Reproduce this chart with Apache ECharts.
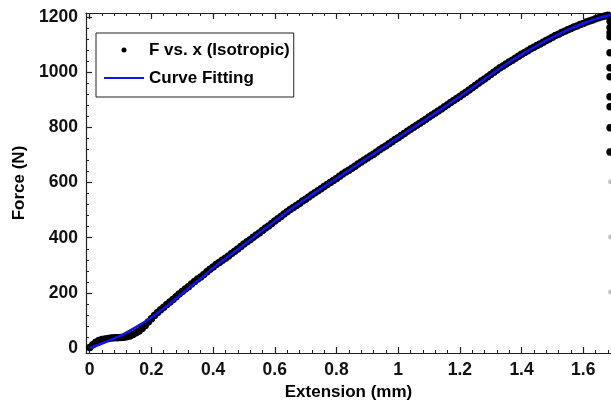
<!DOCTYPE html>
<html>
<head>
<meta charset="utf-8">
<style>
  html, body { margin: 0; padding: 0; background: #fff; }
  #chart { width: 611px; height: 410px; }
</style>
<script src="https://cdn.jsdelivr.net/npm/echarts@6/dist/echarts.min.js"></script>
</head>
<body>
<div id="chart"></div>
<script>
// Tensile test: measured force vs. extension, with the fitted curve
const extension = [
  0.00, 0.01, 0.02, 0.03, 0.04, 0.05, 0.06, 0.07, 0.08, 0.09,
  0.10, 0.11, 0.12, 0.13, 0.14, 0.15, 0.16, 0.17, 0.18, 0.19,
  0.20, 0.21, 0.22, 0.23, 0.24, 0.25, 0.26, 0.27, 0.28, 0.29,
  0.30, 0.31, 0.32, 0.33, 0.34, 0.35, 0.36, 0.37, 0.38, 0.39,
  0.40, 0.41, 0.42, 0.43, 0.44, 0.45, 0.46, 0.47, 0.48, 0.49,
  0.50, 0.51, 0.52, 0.53, 0.54, 0.55, 0.56, 0.57, 0.58, 0.59,
  0.60, 0.61, 0.62, 0.63, 0.64, 0.65, 0.66, 0.67, 0.68, 0.69,
  0.70, 0.71, 0.72, 0.73, 0.74, 0.75, 0.76, 0.77, 0.78, 0.79,
  0.80, 0.81, 0.82, 0.83, 0.84, 0.85, 0.86, 0.87, 0.88, 0.89,
  0.90, 0.91, 0.92, 0.93, 0.94, 0.95, 0.96, 0.97, 0.98, 0.99,
  1.00, 1.01, 1.02, 1.03, 1.04, 1.05, 1.06, 1.07, 1.08, 1.09,
  1.10, 1.11, 1.12, 1.13, 1.14, 1.15, 1.16, 1.17, 1.18, 1.19,
  1.20, 1.21, 1.22, 1.23, 1.24, 1.25, 1.26, 1.27, 1.28, 1.29,
  1.30, 1.31, 1.32, 1.33, 1.34, 1.35, 1.36, 1.37, 1.38, 1.39,
  1.40, 1.41, 1.42, 1.43, 1.44, 1.45, 1.46, 1.47, 1.48, 1.49,
  1.50, 1.51, 1.52, 1.53, 1.54, 1.55, 1.56, 1.57, 1.58, 1.59,
  1.60, 1.61, 1.62, 1.63, 1.64, 1.65, 1.66, 1.67, 1.68
];
const force = [
  2, 12, 21, 27, 31, 33, 35, 36, 37, 37,
  38, 39, 41, 44, 49, 55, 62, 71, 82, 94,
  106, 118, 129, 139, 148, 158, 167, 176, 186, 196,
  205, 214, 222, 232, 241, 250, 258, 267, 277, 286,
  294, 303, 310, 318, 326, 334, 343, 351, 359, 368,
  377, 385, 393, 402, 410, 417, 426, 435, 443, 452,
  461, 469, 477, 486, 494, 502, 510, 517, 524, 533,
  540, 548, 556, 563, 570, 578, 586, 593, 600, 608,
  615, 623, 631, 638, 645, 652, 659, 667, 675, 682,
  689, 696, 703, 711, 719, 726, 733, 741, 748, 756,
  763, 771, 778, 786, 793, 801, 808, 815, 822, 830,
  838, 845, 852, 860, 867, 875, 882, 890, 898, 905,
  912, 920, 928, 936, 944, 952, 960, 968, 976, 984,
  992, 1000, 1008, 1016, 1023, 1030, 1037, 1044, 1051, 1058,
  1065, 1072, 1078, 1085, 1091, 1097, 1103, 1109, 1115, 1121,
  1127, 1133, 1138, 1144, 1149, 1154, 1159, 1164, 1168, 1173,
  1177, 1182, 1186, 1190, 1194, 1198, 1201, 1204, 1207
];

// Load drop at rupture
const dropExtension = [1.687, 1.687, 1.687, 1.687, 1.687, 1.687, 1.687, 1.687, 1.687, 1.687, 1.687];
const dropForce = [1185, 1162, 1143, 1129, 1071, 1016, 984, 911, 875, 799, 711];
const dropFaintExtension = [1.689, 1.689, 1.689];
const dropFaintForce = [603, 403, 203];

// Fitted curve
const fitExtension = [
  0.00, 0.05, 0.10, 0.15, 0.20, 0.25, 0.30, 0.35, 0.40, 0.45,
  0.50, 0.55, 0.60, 0.65, 0.70, 0.75, 0.80, 0.85, 0.90, 0.95,
  1.00, 1.05, 1.10, 1.15, 1.20, 1.25, 1.30, 1.35, 1.40, 1.45,
  1.50, 1.55, 1.60, 1.65, 1.69
];
const fitForce = [
  0, 21, 45, 76, 111, 152, 198, 243, 290, 333,
  375, 418, 460, 502, 540, 578, 615, 652, 689, 726,
  763, 800, 837, 874, 912, 951, 991, 1029, 1064, 1097,
  1127, 1154, 1177, 1197, 1208
];

// Tick labels
const xTicks = [0, 0.2, 0.4, 0.6, 0.8, 1, 1.2, 1.4, 1.6];
const yTicks = [0, 200, 400, 600, 800, 1000, 1200];

const xMin = -0.012, xMax = 1.69;
const yMin = -18, yMax = 1215;

// Four minor ticks inside each major interval
function minorBetween(majors, parts, lo, hi) {
  const out = [];
  const step = majors[1] - majors[0];
  const all = [majors[0] - step].concat(majors);
  all.forEach(m => {
    for (let j = 1; j < parts; j++) {
      const v = +(m + step * j / parts).toFixed(6);
      if (v > lo && v < hi && majors.indexOf(v) < 0) out.push(v);
    }
  });
  return out;
}
const xMinor = minorBetween(xTicks, 5, xMin, xMax);
const yMinor = minorBetween(yTicks, 5, yMin, yMax);

const axisColor = '#222';
const labelFont = { fontFamily: 'Liberation Sans', fontWeight: 'bold', fontSize: 17.5, color: '#111' };

function xAx(position, opts) {
  return Object.assign({
    type: 'value', position: position, min: xMin, max: xMax,
    axisLine: { show: true, onZero: false, lineStyle: { color: axisColor, width: 1.2 } },
    axisTick: { show: false },
    axisLabel: { show: false },
    splitLine: { show: false }
  }, opts);
}
function yAx(opts) {
  return Object.assign({
    type: 'value', position: 'left', min: yMin, max: yMax,
    axisLine: { show: true, onZero: false, lineStyle: { color: axisColor, width: 1.2 } },
    axisTick: { show: false },
    axisLabel: { show: false },
    splitLine: { show: false }
  }, opts);
}
const majorTick = vals => ({ show: true, inside: true, length: 6, customValues: vals, lineStyle: { color: axisColor, width: 1.2 } });
const minorTick = vals => ({ show: true, inside: true, length: 3, customValues: vals, lineStyle: { color: axisColor, width: 1 } });
const plainNumber = v => String(v);

const chart = echarts.init(document.getElementById('chart'), null, { renderer: 'canvas' });
chart.setOption({
  animation: false,
  backgroundColor: '#fff',
  grid: { left: 86, right: 0, top: 13, bottom: 57, containLabel: false, outerBoundsMode: 'none' },
  legend: {
    orient: 'vertical',
    left: 96, top: 33,
    padding: [7, 4, 9, 7],
    itemGap: 8,
    itemWidth: 40, itemHeight: 5,
    itemStyle: { borderWidth: 0 },
    backgroundColor: '#fff',
    borderColor: '#222', borderWidth: 1,
    textStyle: { fontFamily: 'Liberation Sans', fontWeight: 'bold', fontSize: 17, lineHeight: 20, color: '#000' },
    data: [
      { name: 'F vs. x (Isotropic)', icon: 'circle' },
      { name: 'Curve Fitting', itemStyle: { color: 'rgba(0,0,0,0)', borderWidth: 0 } }
    ]
  },
  xAxis: [
    xAx('bottom', {
      name: 'Extension (mm)', nameLocation: 'middle', nameGap: 31,
      nameTextStyle: { fontFamily: 'Liberation Sans', fontWeight: 'bold', fontSize: 17, color: '#000' },
      axisTick: majorTick(xTicks),
      axisLabel: Object.assign({ show: true, margin: 8, customValues: xTicks, formatter: plainNumber }, labelFont)
    }),
    xAx('bottom', { axisLine: { show: false, onZero: false }, axisTick: minorTick(xMinor) }),
    xAx('top', { axisTick: majorTick(xTicks) }),
    xAx('top', { axisLine: { show: false, onZero: false }, axisTick: minorTick(xMinor) })
  ],
  yAxis: [
    yAx({
      name: 'Force (N)', nameLocation: 'middle', nameGap: 56,
      nameTextStyle: { fontFamily: 'Liberation Sans', fontWeight: 'bold', fontSize: 17, color: '#000' },
      axisTick: majorTick(yTicks),
      axisLabel: Object.assign({ show: true, margin: 8, customValues: yTicks, formatter: plainNumber }, labelFont)
    }),
    yAx({ axisLine: { show: false, onZero: false }, axisTick: minorTick(yMinor) })
  ],
  series: [
    {
      name: 'F vs. x (Isotropic)',
      type: 'scatter',
      symbol: 'circle',
      symbolSize: 7.5,
      itemStyle: { color: '#000', opacity: 1 },
      data: extension.map((x, i) => [x, force[i]])
        .concat(dropExtension.map((x, i) => [x, dropForce[i]]))
    },
    {
      name: 'drop-faint',
      type: 'scatter',
      symbol: 'circle',
      symbolSize: 5,
      itemStyle: { color: '#000', opacity: 0.25 },
      data: dropFaintExtension.map((x, i) => [x, dropFaintForce[i]])
    },
    {
      name: 'Curve Fitting',
      type: 'line',
      smooth: 0.3,
      symbol: 'none',
      lineStyle: { color: '#1212f2', width: 2.5 },
      itemStyle: { color: '#1212f2' },
      data: fitExtension.map((x, i) => [x, fitForce[i]])
    }
  ]
});
</script>
</body>
</html>
